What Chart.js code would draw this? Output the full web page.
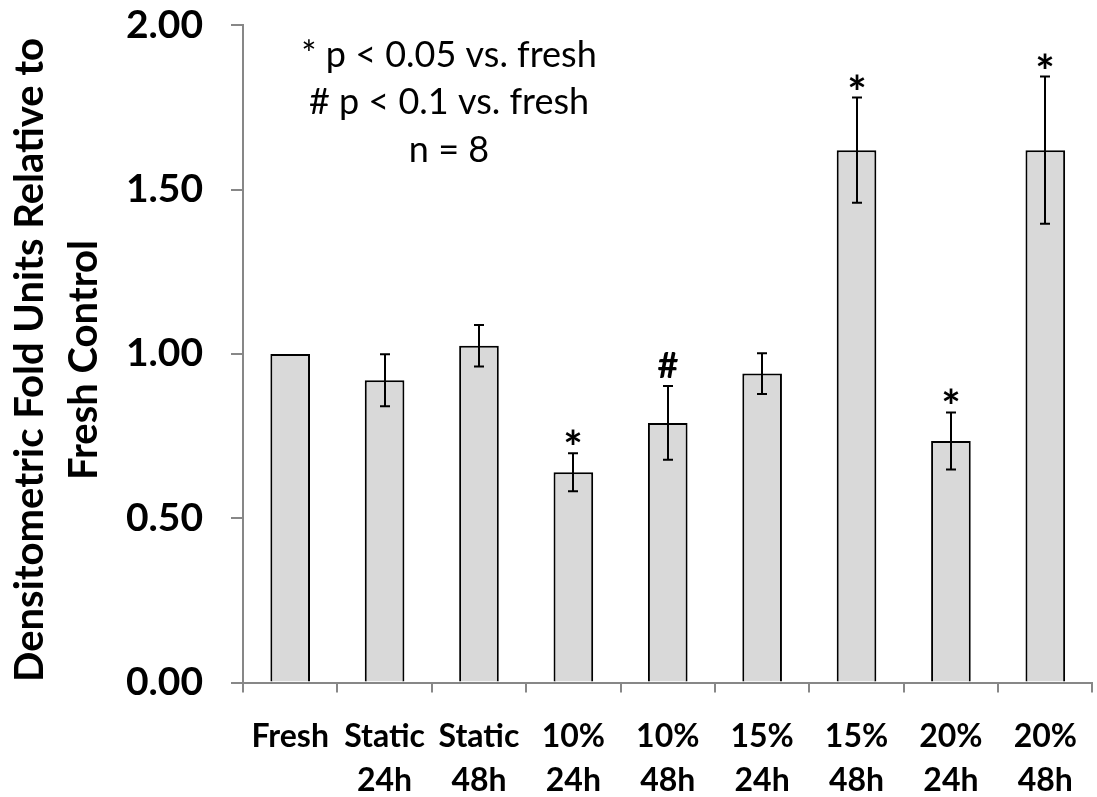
<!DOCTYPE html>
<html>
<head>
<meta charset="utf-8">
<script src="https://cdn.jsdelivr.net/npm/chart.js@4.4.1/dist/chart.umd.min.js"></script>
<style>
  html, body { margin: 0; padding: 0; background: #fff; overflow: hidden; }
  canvas { display: block; }
</style>
</head>
<body>
<canvas id="chart" width="1100" height="797"></canvas>
<script>
// Group labels (two-line category names)
const categories = [
  ['Fresh'], ['Static', '24h'], ['Static', '48h'],
  ['10%', '24h'], ['10%', '48h'], ['15%', '24h'],
  ['15%', '48h'], ['20%', '24h'], ['20%', '48h']
];
// Mean densitometric fold units relative to fresh control
const foldUnits = [1.00, 0.92, 1.025, 0.64, 0.79, 0.94, 1.62, 0.735, 1.62];
// Standard error of the mean for each group
const errorSE = [0, 0.079, 0.063, 0.058, 0.112, 0.062, 0.16, 0.087, 0.224];
// Significance markers placed above the error bars
const significance = ['', '', '', '*', '#', '', '*', '*', '*'];
// Y axis tick values
const yTicks = [0, 0.5, 1.0, 1.5, 2.0];
const yTitle = ['Densitometric Fold Units Relative to', 'Fresh Control'];
const noteLines = ['* p < 0.05 vs. fresh', '# p < 0.1 vs. fresh', 'n = 8'];

const FONT = 'Lato, "Open Sans", "DejaVu Sans", sans-serif';
const AXIS_GRAY = '#878787';

// Error bars, significance markers, rotated axis title and the note block
const overlay = {
  id: 'overlay',
  afterDatasetsDraw(chart) {
    const { ctx, scales: { y } } = chart;
    const meta = chart.getDatasetMeta(0);
    ctx.save();
    ctx.strokeStyle = '#000';
    ctx.lineWidth = 2;
    meta.data.forEach((bar, i) => {
      const err = errorSE[i];
      const cx = Math.round(bar.x);
      const top = y.getPixelForValue(foldUnits[i] + err);
      const bot = y.getPixelForValue(foldUnits[i] - err);
      if (err > 0) {
        ctx.beginPath();
        ctx.moveTo(cx, top); ctx.lineTo(cx, bot);
        ctx.moveTo(cx - 5, top); ctx.lineTo(cx + 5, top);
        ctx.moveTo(cx - 5, bot); ctx.lineTo(cx + 5, bot);
        ctx.stroke();
      }
      const mark = significance[i];
      if (mark) {
        ctx.font = (mark === '*' ? 'bold 46px ' : 'bold 36px ') + FONT;
        ctx.fillStyle = '#000';
        ctx.textAlign = 'center';
        ctx.textBaseline = 'alphabetic';
        const m = ctx.measureText(mark);
        const glyphBottom = top - 8;
        ctx.fillText(mark, cx, glyphBottom - m.actualBoundingBoxDescent);
      }
    });
    ctx.restore();
  },
  afterDraw(chart) {
    const { ctx } = chart;
    ctx.save();
    ctx.fillStyle = '#000';
    // rotated y axis title
    ctx.font = 'bold 40px ' + FONT;
    ctx.textAlign = 'center';
    ctx.textBaseline = 'alphabetic';
    const titleX = [43, 97];
    yTitle.forEach((line, k) => {
      ctx.save();
      ctx.translate(titleX[k], 360);
      ctx.rotate(-Math.PI / 2);
      ctx.fillText(line, 0, 0);
      ctx.restore();
    });
    // note block
    ctx.font = '36px ' + FONT;
    const noteY = [67, 114, 162];
    noteLines.forEach((line, k) => ctx.fillText(line, 449, noteY[k]));
    ctx.restore();
  }
};

function draw() {
  new Chart(document.getElementById('chart'), {
    type: 'bar',
    data: {
      labels: categories,
      datasets: [{
        data: foldUnits,
        backgroundColor: '#d9d9d9',
        borderColor: '#000',
        borderWidth: 2,
        barPercentage: 0.42,
        categoryPercentage: 1
      }]
    },
    options: {
      responsive: false,
      animation: false,
      devicePixelRatio: 1,
      layout: { padding: { top: 25.3, right: 0.5, left: 0, bottom: 0 } },
      plugins: {
        legend: { display: false },
        tooltip: { enabled: false },
        title: { display: false }
      },
      scales: {
        x: {
          grid: {
            display: true, drawOnChartArea: false, drawTicks: true,
            tickLength: 10, color: AXIS_GRAY, lineWidth: 2, offset: true
          },
          border: { display: true, color: AXIS_GRAY, width: 2 },
          ticks: {
            color: '#000',
            font: { family: FONT, size: 32, weight: 'bold', lineHeight: 1.35 },
            padding: 23, maxRotation: 0, minRotation: 0, autoSkip: false
          },
          afterFit(s) { s.height = 797 - 682.5; }
        },
        y: {
          min: 0, max: 2,
          afterBuildTicks(s) { s.ticks = yTicks.map(v => ({ value: v })); },
          grid: {
            display: true, drawOnChartArea: false, drawTicks: true,
            tickLength: 12, color: AXIS_GRAY, lineWidth: 2
          },
          border: { display: true, color: AXIS_GRAY, width: 2 },
          ticks: {
            color: '#000',
            font: { family: FONT, size: 39, weight: 'bold' },
            padding: 28,
            callback: v => Number(v).toFixed(2)
          },
          afterFit(s) {
            s.width = 243;
            // keep the plot area pinned to the layout padding
            s.paddingTop = 0;
            s.paddingBottom = 0;
          }
        }
      }
    },
    plugins: [overlay]
  });
}

Promise.all([
  document.fonts.load('bold 39px Lato'),
  document.fonts.load('36px Lato')
]).then(draw, draw);
</script>
</body>
</html>
